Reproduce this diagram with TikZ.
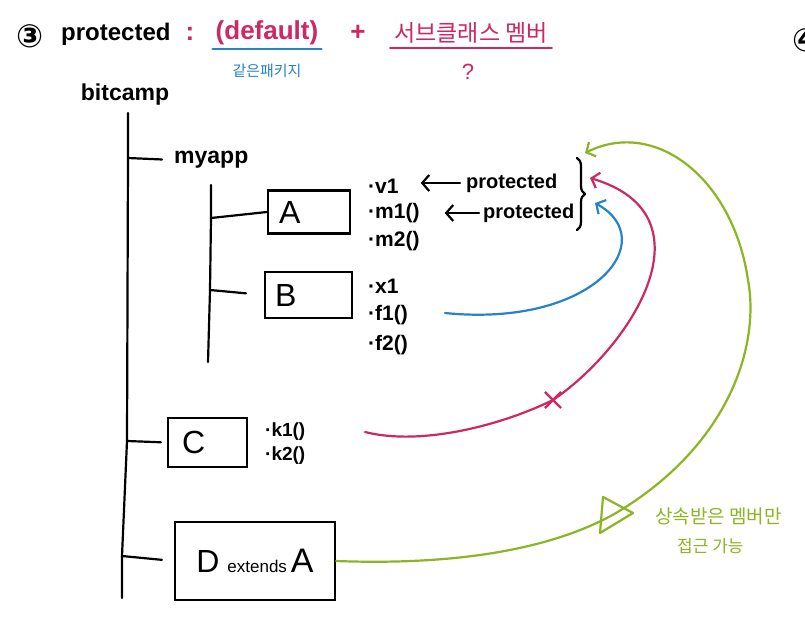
\documentclass[tikz,border=0pt]{standalone}
\usepackage{fontspec}
\setmainfont{Liberation Sans}
\newfontfamily\kr{Noto Sans CJK KR}
\newfontfamily\dejavu{DejaVu Sans}
\usetikzlibrary{arrows.meta,decorations.pathreplacing,shapes.misc}
\definecolor{mag}{RGB}{205,40,100}
\definecolor{blu}{RGB}{40,130,200}
\definecolor{grn}{RGB}{140,180,35}
\tikzset{
  ink/.style={line width=2.2pt, line cap=round, line join=round},
  box/.style={draw, line width=2.2pt, inner sep=0pt},
  big/.style={font=\bfseries\fontsize{26}{28}\selectfont, inner sep=0pt},
  mem/.style={font=\bfseries\fontsize{21}{23}\selectfont, anchor=west, inner sep=0pt},
  letter/.style={font=\fontsize{32}{34}\selectfont},
  barb/.style={-{Straight Barb[length=7pt,width=16pt]}},
}
\begin{document}
\begin{tikzpicture}[x=1pt,y=-1pt]
\useasboundingbox[fill=white] (0,0) rectangle (805,631);

% ---- heading ----
\node[big, font=\dejavu\bfseries\fontsize{32}{34}\selectfont] (num) at (30,36) {③};
\node[big, font=\bfseries\fontsize{24}{26}\selectfont, anchor=west] (prot) at (61,34) {protected};
\node[big, text=mag] (colon) at (190,34) {:};
\node[big, text=mag] (def) at (267,33) {(default)};
\draw[ink, blu] ([xshift=-3pt,yshift=-4pt]def.south west) -- ([xshift=3pt,yshift=-4pt]def.south east);
\node[inner sep=0pt, text=blu, font=\kr\fontsize{15}{17}\selectfont] (same) at (267,71) {같은패키지};
\node[big, text=mag] (plus) at (358,33) {+};
\node[inner sep=0pt, text=mag, font=\kr\fontsize{23}{25}\selectfont] (sub) at (471,33) {서브클래스 멤버};
\draw[ink, mag] ([xshift=-4pt,yshift=-4pt]sub.south west) -- ([xshift=4pt,yshift=-4pt]sub.south east);
\node[inner sep=0pt, text=mag, font=\fontsize{22}{24}\selectfont] (q) at (468,72) {?};
\node[big, font=\dejavu\bfseries\fontsize{32}{34}\selectfont] (num4) at (806,40) {④};

% ---- package tree ----
\node[big, font=\bfseries\fontsize{23}{25}\selectfont] (bitcamp) at (125,95) {bitcamp};
\node[big, font=\bfseries\fontsize{23}{25}\selectfont, anchor=west] (myapp) at (174,160) {myapp};

\coordinate (t0) at (128,113);
\coordinate (t1) at (128,158);
\coordinate (t2) at (127,441);
\coordinate (t3) at (122,556);
\coordinate (t4) at (122,598);
\draw[ink] (t0) -- (t1) -- (t2) -- (t3) -- (t4);
\draw[ink, shorten >=12pt] (t1) -- (myapp.west);

\coordinate (s0) at (211,185);
\coordinate (s1) at (211,218);
\coordinate (s2) at (210,290);
\coordinate (s3) at (208,362);
\draw[ink] (s0) -- (s1) -- (s2) -- (s3);

% classes
\node[box, minimum width=82pt, minimum height=43pt, letter] (A) at (309,212) {\makebox[60pt][l]{A}};
\node[box, minimum width=87pt, minimum height=46pt, letter] (B) at (308.5,295) {\makebox[67pt][l]{B}};
\node[box, minimum width=79pt, minimum height=49pt, letter] (C) at (207.5,442.5) {\makebox[51pt][l]{C}};
\node[box, minimum width=160pt, minimum height=78pt] (D) at (255,561)
  {{\fontsize{32}{34}\selectfont D}\hspace{8pt}{\fontsize{17}{19}\selectfont extends}\hspace{4pt}{\fontsize{34}{36}\selectfont A}};

\draw[ink] (s1) -- (A.west);
\draw[ink, shorten >=18pt] (s2) -- (B.west);
\draw[ink, shorten >=6pt] (t2) -- (C.west);
\draw[ink, shorten >=12pt] (t3) -- (D.west);

% members
\node[mem] (v1) at (368,186) {·v1};
\node[mem] (m1) at (368,213) {·m1()};
\node[mem] (m2) at (368,241) {·m2()};
\node[mem] (x1) at (368,286) {·x1};
\node[mem] (f1) at (368,315) {·f1()};
\node[mem] (f2) at (368,345) {·f2()};
\node[mem, font=\bfseries\fontsize{19}{21}\selectfont] (k1) at (265,432) {·k1()};
\node[mem, font=\bfseries\fontsize{19}{21}\selectfont] (k2) at (265,456) {·k2()};

\node[mem, font=\bfseries\fontsize{20}{22}\selectfont] (p1) at (466,183) {protected};
\node[mem, font=\bfseries\fontsize{20}{22}\selectfont] (p2) at (483,213) {protected};
\draw[ink, barb, shorten <=6pt, shorten >=22pt] (p1.west) -- (v1.east |- p1.west);
\draw[ink, barb, shorten <=4pt, shorten >=25pt] (p2.west) -- (m1.east |- p2.west);

\coordinate (brT) at (577,158);
\coordinate (brB) at (577,230);
\draw[ink, decorate, decoration={brace, amplitude=8pt}] (brT) -- (brB);

% ---- access arrows ----
\coordinate (bluS) at (445,313);
\coordinate (bluE) at (595,203);
\draw[ink, blu, barb] (bluS) .. controls (595,328) and (662,240) .. (bluE);

\coordinate (magS) at (365,432);
\node[cross out, draw=mag, line width=2.2pt, minimum size=14pt, inner sep=0pt] (xmark) at (553,400) {};
\coordinate (magE) at (590,178);
\draw[ink, mag] (magS) .. controls (420,446) and (500,426) .. (xmark.center);
\draw[ink, mag, barb] (xmark.center) .. controls (632,346) and (715,215) .. (magE);

\coordinate (tri) at (616,513);
\coordinate (grnM) at (748,280);
\coordinate (grnE) at (585,153);
\draw[ink, grn] (D.east) .. controls (470,566) and (560,545) .. (tri);
\draw[ink, grn] (tri) .. controls (730,445) and (760,345) .. (grnM);
\draw[ink, grn, barb] (grnM) .. controls (733,178) and (655,118) .. (grnE);
\draw[ink, grn] (603,497) -- (633,513) -- (600,533) -- cycle;

\node[inner sep=0pt, text=grn, font=\kr\fontsize{19}{21}\selectfont, anchor=west] (note1) at (655,516) {상속받은 멤버만};
\node[inner sep=0pt, text=grn, font=\kr\fontsize{17}{19}\selectfont, anchor=west] (note2) at (677,546) {접근 가능};
\end{tikzpicture}
\end{document}
